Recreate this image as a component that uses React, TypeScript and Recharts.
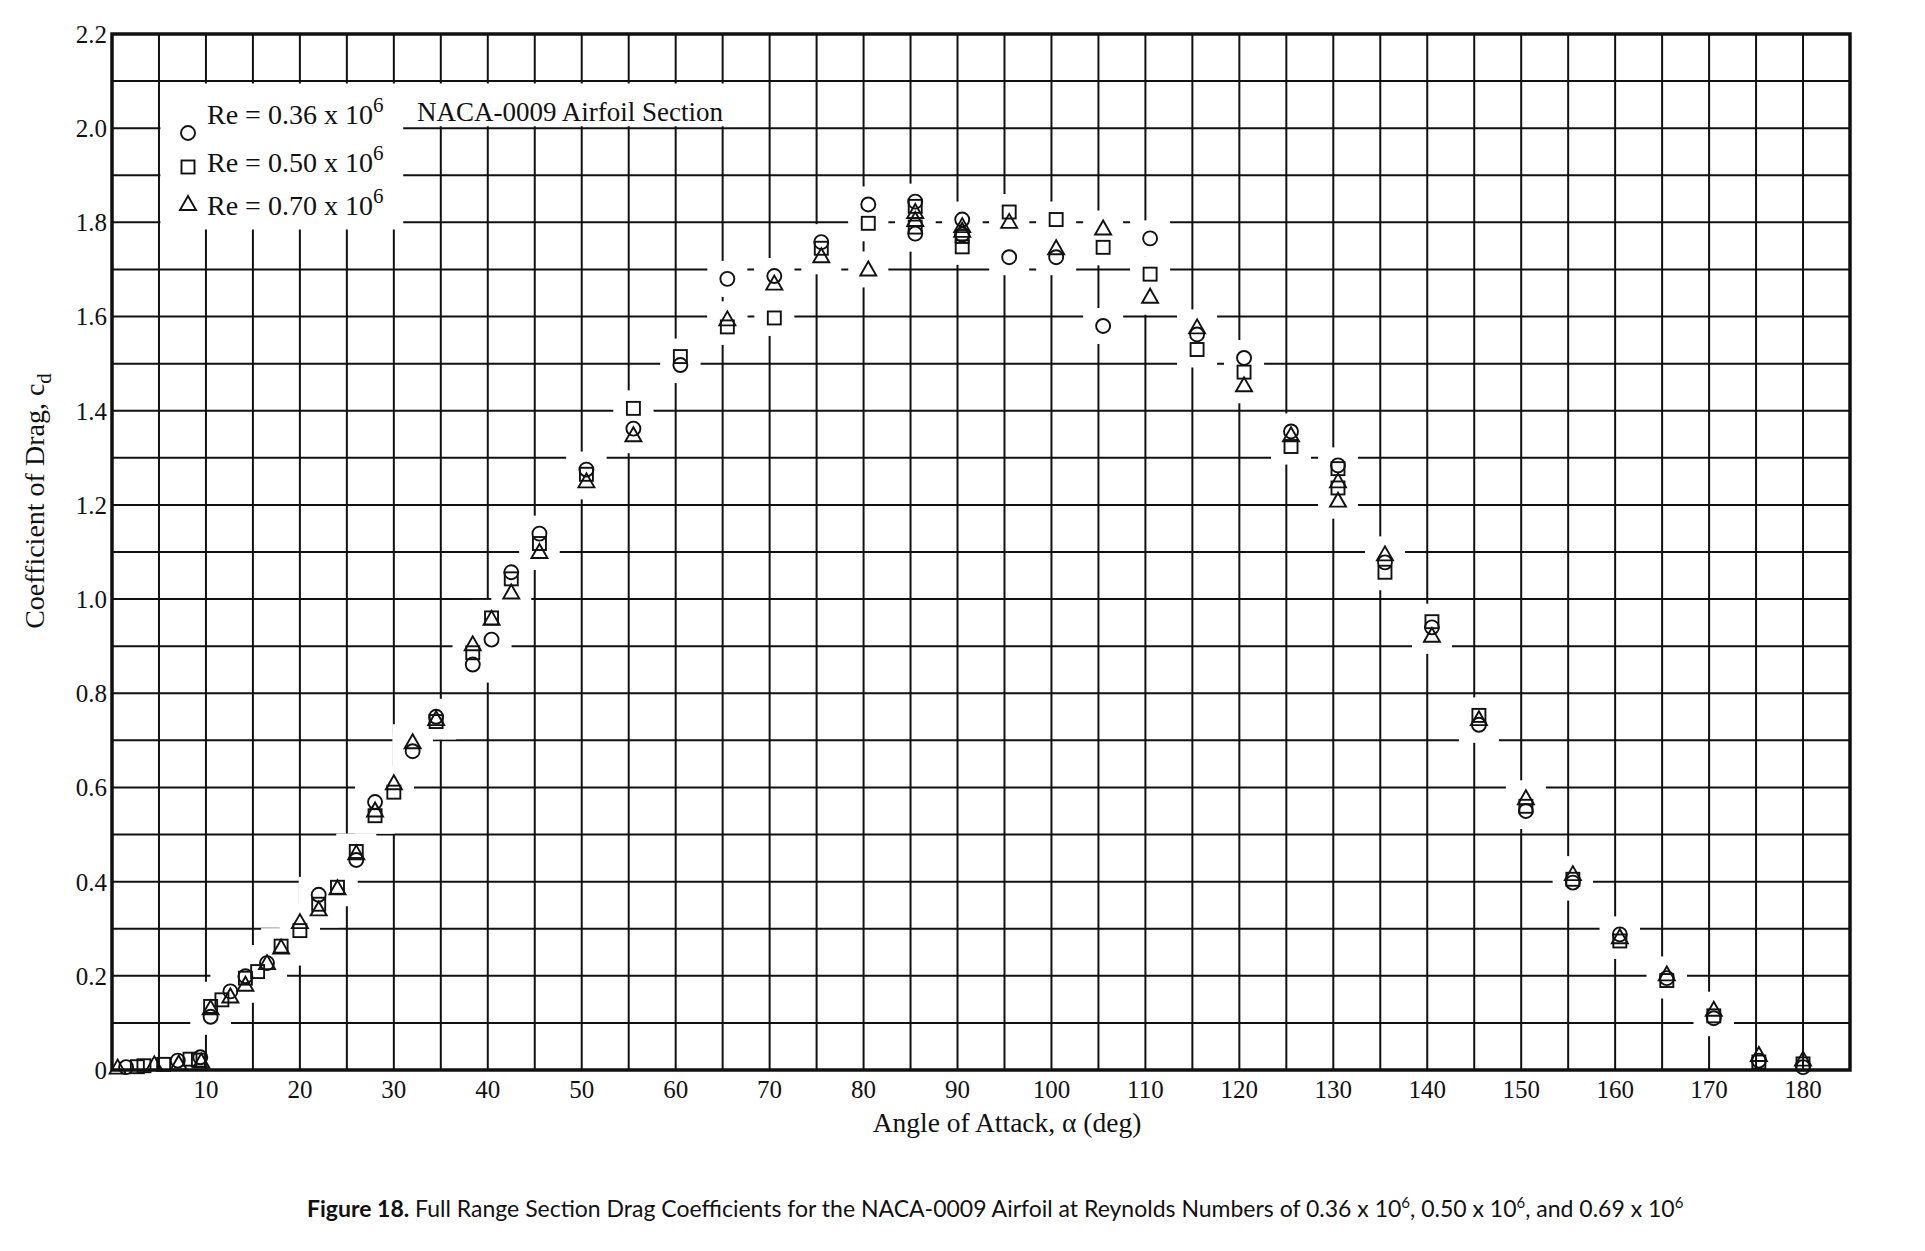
import {
  ScatterChart,
  Scatter,
  XAxis,
  YAxis,
  CartesianGrid,
  ReferenceArea,
  Legend,
} from 'recharts';

// Angle of attack (deg) and section drag coefficient
const alpha036 = [1.5, 7, 9.4, 10.5, 12.6, 14.2, 16.5, 22, 26, 28, 32, 34.5, 38.4, 40.4, 42.5, 45.5, 50.5, 55.5, 60.5, 65.5, 70.5, 75.5, 80.5, 85.5, 85.5, 90.5, 90.5, 95.5, 100.5, 105.5, 110.5, 115.5, 120.5, 125.5, 130.5, 135.5, 140.5, 145.5, 150.5, 155.5, 160.5, 165.5, 170.5, 175.3, 180];
const cd036 = [0.006, 0.02, 0.027, 0.113, 0.167, 0.199, 0.227, 0.372, 0.446, 0.569, 0.677, 0.75, 0.861, 0.914, 1.057, 1.139, 1.275, 1.362, 1.497, 1.68, 1.686, 1.758, 1.838, 1.844, 1.776, 1.806, 1.774, 1.726, 1.726, 1.58, 1.766, 1.562, 1.512, 1.356, 1.284, 1.078, 0.94, 0.733, 0.55, 0.398, 0.288, 0.195, 0.11, 0.02, 0.006];

const alpha050 = [2.7, 3.4, 5.5, 8.3, 9.2, 10.5, 11.7, 14.2, 15.5, 18, 20, 22, 24, 26, 28, 30, 34.5, 38.4, 40.4, 42.5, 45.5, 50.5, 55.5, 60.5, 65.5, 70.5, 75.5, 80.5, 85.5, 85.5, 90.5, 90.5, 95.5, 100.5, 105.5, 110.5, 115.5, 120.5, 125.5, 130.5, 130.5, 135.5, 140.5, 145.5, 150.5, 155.5, 160.5, 165.5, 170.5, 175.3, 180];
const cd050 = [0.007, 0.009, 0.012, 0.023, 0.021, 0.135, 0.149, 0.195, 0.209, 0.263, 0.296, 0.352, 0.388, 0.464, 0.54, 0.59, 0.74, 0.886, 0.96, 1.043, 1.118, 1.265, 1.405, 1.515, 1.578, 1.597, 1.745, 1.798, 1.834, 1.79, 1.77, 1.748, 1.822, 1.806, 1.747, 1.69, 1.53, 1.482, 1.324, 1.277, 1.236, 1.057, 0.952, 0.753, 0.56, 0.405, 0.274, 0.19, 0.115, 0.017, 0.013];

const alpha070 = [0.6, 4.5, 7.1, 9.5, 10.5, 12.6, 14.2, 16.5, 18, 20, 22, 24, 26, 28, 30, 32, 34.5, 38.4, 40.4, 42.5, 45.5, 50.5, 55.5, 65.5, 70.5, 75.5, 80.5, 85.5, 85.5, 90.5, 90.5, 95.5, 100.5, 105.5, 110.5, 115.5, 120.5, 125.5, 130.5, 130.5, 135.5, 140.5, 145.5, 150.5, 155.5, 160.5, 165.5, 170.5, 175.3, 180];
const cd070 = [0.005, 0.012, 0.014, 0.018, 0.131, 0.156, 0.181, 0.227, 0.26, 0.314, 0.341, 0.386, 0.46, 0.551, 0.609, 0.696, 0.745, 0.904, 0.958, 1.014, 1.1, 1.25, 1.348, 1.594, 1.67, 1.728, 1.7, 1.822, 1.805, 1.792, 1.782, 1.801, 1.745, 1.787, 1.642, 1.577, 1.454, 1.348, 1.25, 1.209, 1.095, 0.922, 0.745, 0.577, 0.416, 0.282, 0.203, 0.128, 0.032, 0.022];

const reynolds = ['0.36', '0.50', '0.70'];

const xTicks = [0, 5, 10, 15, 20, 25, 30, 35, 40, 45, 50, 55, 60, 65, 70, 75, 80, 85, 90, 95, 100, 105, 110, 115, 120, 125, 130, 135, 140, 145, 150, 155, 160, 165, 170, 175, 180, 185];
const yTicks = [0, 0.1, 0.2, 0.3, 0.4, 0.5, 0.6, 0.7, 0.8, 0.9, 1.0, 1.1, 1.2, 1.3, 1.4, 1.5, 1.6, 1.7, 1.8, 1.9, 2.0, 2.1, 2.2];

const toPoints = (xs: number[], ys: number[]) => xs.map((x, i) => ({ x, y: ys[i] }));

const series = [
  { name: reynolds[0], kind: 'circle', data: toPoints(alpha036, cd036) },
  { name: reynolds[1], kind: 'square', data: toPoints(alpha050, cd050) },
  { name: reynolds[2], kind: 'triangle', data: toPoints(alpha070, cd070) },
];

// white knock-out behind the plotted symbols (the printed grid is broken around them)
const haloData = series.flatMap((s) => s.data).filter((p) => p.y > 0.05);

const SERIF = '"Liberation Serif", "DejaVu Serif", serif';
const INK = '#111';

function Marker({ kind, cx, cy }: { kind: string; cx: number; cy: number }) {
  const common = { fill: 'none', stroke: INK, strokeWidth: 1.9 };
  if (kind === 'circle') return <circle cx={cx} cy={cy} r={7} {...common} />;
  if (kind === 'square') return <rect x={cx - 6.5} y={cy - 6.5} width={13} height={13} {...common} />;
  return (
    <polygon
      points={`${cx},${cy - 8} ${cx - 8},${cy + 6} ${cx + 8},${cy + 6}`}
      {...common}
      strokeLinejoin="miter"
    />
  );
}

function Halo({ cx, cy }: any) {
  return <rect x={cx - 20} y={cy - 18} width={40} height={36} fill="#fff" />;
}

function KeyBox({ payload }: any) {
  const rows = (payload ?? []).filter((e: any) => e.type !== 'none');
  const markerY = [125, 159, 196];
  const textY = [116, 164, 207];
  return (
    <svg width={760} height={240} style={{ position: 'absolute', left: 0, top: 0, overflow: 'visible' }}>
      {rows.map((e: any, i: number) => (
        <g key={e.value}>
          <Marker kind={e.type} cx={180} cy={markerY[i]} />
          <text x={199} y={textY[i]} fontFamily={SERIF} fontSize={28} fill={INK}>
            {`Re = ${e.value} x 10`}
            <tspan dy={-12} fontSize={21}>6</tspan>
          </text>
        </g>
      ))}
      <text x={409} y={113} fontFamily={SERIF} fontSize={27} fill={INK}>
        NACA-0009 Airfoil Section
      </text>
    </svg>
  );
}

function YTitle({ viewBox }: any) {
  const x = (viewBox?.x ?? 0) + 36;
  const y = 493;
  return (
    <text x={x} y={y} transform={`rotate(-90 ${x} ${y})`} textAnchor="middle" fontFamily={SERIF} fontSize={28} fill={INK}>
      Coefficient of Drag, c<tspan dy={7} fontSize={21}>d</tspan>
    </text>
  );
}

function XTitle({ viewBox }: any) {
  const x = (viewBox?.x ?? 0) + (viewBox?.width ?? 0) / 2 + 26;
  const y = (viewBox?.y ?? 0) + 62;
  return (
    <text x={x} y={y} textAnchor="middle" fontFamily={SERIF} fontSize={27.5} fill={INK}>
      Angle of Attack, α (deg)
    </text>
  );
}

export default function App() {
  return (
    <div style={{ position: 'relative', width: 1900, height: 1230 }}>
      <ScatterChart width={1900} height={1150} margin={{ top: 26, right: 58, left: 0, bottom: 0 }}>
        <CartesianGrid stroke={INK} strokeWidth={2} />
        <XAxis
          type="number"
          dataKey="x"
          domain={[0, 185]}
          ticks={xTicks}
          interval={0}
          height={88}
          axisLine={false}
          tickLine={false}
          tickSize={0}
          tickMargin={10}
          tickFormatter={(v: number) => (v > 0 && v % 10 === 0 ? String(v) : '')}
          tick={{ fontFamily: SERIF, fontSize: 25, fill: INK }}
          label={{ content: <XTitle /> }}
        />
        <YAxis
          type="number"
          dataKey="y"
          domain={[0, 2.2]}
          ticks={yTicks}
          interval={0}
          width={104}
          axisLine={false}
          tickLine={false}
          tickSize={0}
          tickMargin={5}
          tickFormatter={(v: number) => {
            const k = Math.round(v * 10);
            if (k % 2 !== 0) return '';
            return k === 0 ? '0' : v.toFixed(1);
          }}
          tick={{ fontFamily: SERIF, fontSize: 25, fill: INK }}
          label={{ content: <YTitle /> }}
        />
        <ReferenceArea x1={5.15} x2={31} y1={1.785} y2={2.095} fill="#fff" fillOpacity={1} stroke="none" />
        <ReferenceArea x1={31} x2={65.5} y1={2.004} y2={2.095} fill="#fff" fillOpacity={1} stroke="none" />
        <Scatter data={haloData} legendType="none" shape={<Halo />} isAnimationActive={false} />
        {series.map((s) => (
          <Scatter
            key={s.name}
            name={s.name}
            data={s.data}
            legendType={s.kind as any}
            shape={(p: any) => <Marker kind={s.kind} cx={p.cx} cy={p.cy} />}
            isAnimationActive={false}
          />
        ))}
        <ReferenceArea x1={0} x2={185} y1={0} y2={2.2} fill="none" stroke={INK} strokeWidth={3.5} />
        <Legend
          content={<KeyBox />}
          wrapperStyle={{ position: 'absolute', left: 0, top: 0, width: 0, height: 0, overflow: 'visible' }}
        />
      </ScatterChart>
      <div
        style={{
          position: 'absolute',
          left: 299,
          top: 1185,
          whiteSpace: 'nowrap',
          fontFamily: 'Lato, "Noto Sans", sans-serif',
          fontSize: 23,
          color: INK,
        }}
      >
        <b>Figure 18.</b> Full Range Section Drag Coefficients for the NACA-0009 Airfoil at Reynolds Numbers of 0.36 x 10
        <sup style={{ fontSize: 15 }}>6</sup>, 0.50 x 10<sup style={{ fontSize: 15 }}>6</sup>, and 0.69 x 10
        <sup style={{ fontSize: 15 }}>6</sup>
      </div>
    </div>
  );
}
